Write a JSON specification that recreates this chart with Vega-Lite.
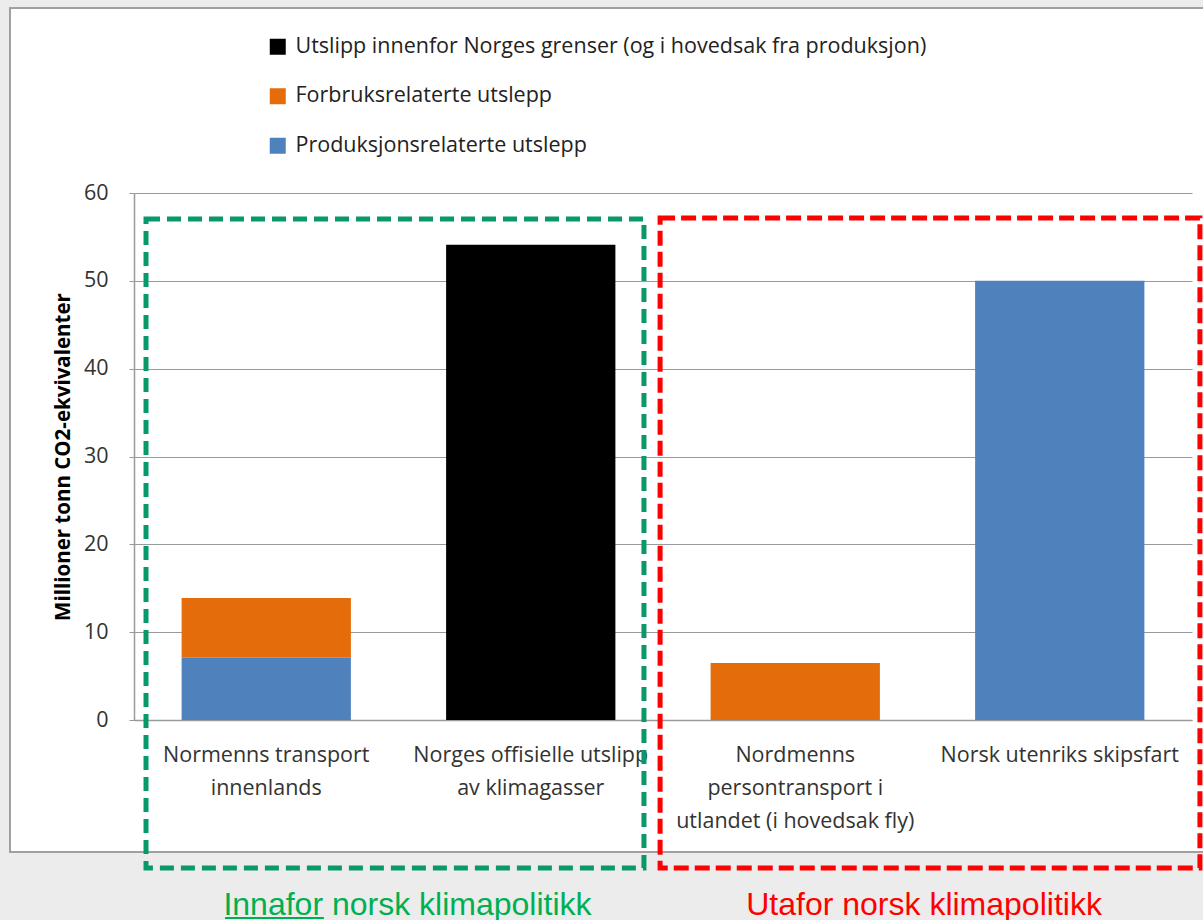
{
  "$schema": "https://vega.github.io/schema/vega-lite/v6.json",
  "width": 1058,
  "height": 527,
  "autosize": {"type": "none"},
  "padding": {"left": 134, "top": 193, "right": 11, "bottom": 200},
  "background": "white",
  "config": {
    "view": {"stroke": null},
    "font": "Open Sans",
    "legend": {
      "orient": "none",
      "legendX": 133,
      "legendY": -157,
      "padding": 0,
      "title": null,
      "symbolType": "square",
      "symbolSize": 256,
      "symbolStrokeWidth": 0,
      "labelFont": "Open Sans",
      "labelFontSize": 21.5,
      "labelColor": "#222222",
      "labelOffset": 7,
      "labelLimit": 1000,
      "rowPadding": 26.5
    }
  },
  "resolve": {"scale": {"x": "independent"}},
  "layer": [
    {
      "data": {"values": [{}]},
      "mark": {"type": "rect", "fill": "#ececec", "clip": false},
      "encoding": {
        "x": {"datum": -0.6, "type": "quantitative", "scale": {"domain": [0, 4], "nice": false, "zero": false}, "axis": null},
        "x2": {"datum": 4.2},
        "y": {"datum": -15.03, "type": "quantitative"},
        "y2": {"datum": -30}
      }
    },
    {
      "data": {"values": [{}]},
      "mark": {"type": "rect", "fill": "#ececec", "clip": false},
      "encoding": {
        "x": {"datum": -0.6, "type": "quantitative", "scale": {"domain": [0, 4], "nice": false, "zero": false}, "axis": null},
        "x2": {"datum": -0.4688},
        "y": {"datum": -30, "type": "quantitative"},
        "y2": {"datum": 85}
      }
    },
    {
      "data": {"values": [{}]},
      "mark": {"type": "rect", "fill": "#ececec", "clip": false},
      "encoding": {
        "x": {"datum": -0.6, "type": "quantitative", "scale": {"domain": [0, 4], "nice": false, "zero": false}, "axis": null},
        "x2": {"datum": 4.2},
        "y": {"datum": 81.06, "type": "quantitative"},
        "y2": {"datum": 85}
      }
    },
    {
      "data": {"values": [{}]},
      "mark": {"type": "rect", "filled": false, "stroke": "#a0a0a0", "strokeWidth": 2, "clip": false},
      "encoding": {
        "x": {"datum": -0.4688, "type": "quantitative", "scale": {"domain": [0, 4], "nice": false, "zero": false}, "axis": null},
        "x2": {"datum": 4.1},
        "y": {"datum": 81.06, "type": "quantitative"},
        "y2": {"datum": -15.03}
      }
    },
    {
      "data": {
        "values": [
          {"kategori": "Normenns transport innenlands", "serie": "Produksjonsrelaterte utslepp", "verdi": 7.1},
          {"kategori": "Normenns transport innenlands", "serie": "Forbruksrelaterte utslepp", "verdi": 6.8},
          {"kategori": "Norges offisielle utslipp av klimagasser", "serie": "Utslipp innenfor Norges grenser (og i hovedsak fra produksjon)", "verdi": 54.1},
          {"kategori": "Nordmenns persontransport i utlandet (i hovedsak fly)", "serie": "Forbruksrelaterte utslepp", "verdi": 6.5},
          {"kategori": "Norsk utenriks skipsfart", "serie": "Produksjonsrelaterte utslepp", "verdi": 50}
        ]
      },
      "mark": {"type": "bar"},
      "encoding": {
        "x": {
          "field": "kategori",
          "type": "nominal",
          "sort": null,
          "scale": {"paddingInner": 0.36, "paddingOuter": 0.18},
          "axis": {
            "title": null,
            "labelAngle": 0,
            "labelFont": "Open Sans",
            "labelFontSize": 21.5,
            "labelColor": "#333333",
            "labelPadding": 24,
            "labelLineHeight": 33,
            "labelLimit": 1000,
            "ticks": false,
            "domain": true,
            "domainColor": "#9a9a9a",
            "domainWidth": 1.5,
            "grid": false,
            "labelExpr": "datum.value == 'Normenns transport innenlands' ? ['Normenns transport', 'innenlands'] : datum.value == 'Norges offisielle utslipp av klimagasser' ? ['Norges offisielle utslipp', 'av klimagasser'] : datum.value == 'Nordmenns persontransport i utlandet (i hovedsak fly)' ? ['Nordmenns', 'persontransport i', 'utlandet (i hovedsak fly)'] : datum.value"
          }
        },
        "y": {
          "field": "verdi",
          "type": "quantitative",
          "stack": "zero",
          "scale": {"domain": [0, 60], "nice": false},
          "axis": {
            "title": "Millioner tonn CO2-ekvivalenter",
            "titleFont": "Open Sans",
            "titleFontSize": 20.5,
            "titleFontWeight": "bold",
            "titleColor": "#000000",
            "titlePadding": 10,
            "values": [0, 10, 20, 30, 40, 50, 60],
            "labelFont": "Open Sans",
            "labelFontSize": 21.5,
            "labelColor": "#333333",
            "labelPadding": 21,
            "ticks": true,
            "tickSize": 5,
            "tickColor": "#9a9a9a",
            "domain": true,
            "domainColor": "#9a9a9a",
            "domainWidth": 1.5,
            "grid": true,
            "gridColor": "#9a9a9a",
            "gridWidth": 1.2
          }
        },
        "color": {
          "field": "serie",
          "type": "nominal",
          "scale": {
            "domain": ["Utslipp innenfor Norges grenser (og i hovedsak fra produksjon)", "Forbruksrelaterte utslepp", "Produksjonsrelaterte utslepp"],
            "range": ["#000000", "#e46c0a", "#4f81bd"]
          },
          "legend": {"title": null}
        },
        "order": {"field": "serie", "sort": "descending"}
      }
    },
    {
      "data": {"values": [{}]},
      "mark": {"type": "rect", "filled": false, "stroke": "#07996b", "strokeWidth": 5, "strokeDash": [14, 7], "clip": false},
      "encoding": {
        "x": {"datum": 0.0454, "type": "quantitative", "scale": {"domain": [0, 4], "nice": false, "zero": false}, "axis": null},
        "x2": {"datum": 1.928},
        "y": {"datum": 57.04, "type": "quantitative"},
        "y2": {"datum": -16.85}
      }
    },
    {
      "data": {"values": [{}]},
      "mark": {"type": "rect", "filled": false, "stroke": "#ff0000", "strokeWidth": 5, "strokeDash": [15, 6], "clip": false},
      "encoding": {
        "x": {"datum": 1.989, "type": "quantitative", "scale": {"domain": [0, 4], "nice": false, "zero": false}, "axis": null},
        "x2": {"datum": 4.03},
        "y": {"datum": 57.15, "type": "quantitative"},
        "y2": {"datum": -16.85}
      }
    },
    {
      "data": {"values": [{"tekst": "Innafor norsk klimapolitikk"}]},
      "mark": {"type": "text", "font": "Liberation Sans", "fontSize": 32, "color": "#00b050", "align": "center", "baseline": "alphabetic", "clip": false},
      "encoding": {
        "x": {"datum": 1.034, "type": "quantitative", "scale": {"domain": [0, 4], "nice": false, "zero": false}, "axis": null},
        "y": {"datum": -22.2, "type": "quantitative"},
        "text": {"field": "tekst"}
      }
    },
    {
      "data": {"values": [{}]},
      "mark": {"type": "rule", "color": "#00b050", "strokeWidth": 2, "clip": false},
      "encoding": {
        "x": {"datum": 0.344, "type": "quantitative", "scale": {"domain": [0, 4], "nice": false, "zero": false}, "axis": null},
        "x2": {"datum": 0.718},
        "y": {"datum": -22.54, "type": "quantitative"}
      }
    },
    {
      "data": {"values": [{"tekst": "Utafor norsk klimapolitikk"}]},
      "mark": {"type": "text", "font": "Liberation Sans", "fontSize": 32, "color": "#ff0000", "align": "center", "baseline": "alphabetic", "clip": false},
      "encoding": {
        "x": {"datum": 2.987, "type": "quantitative", "scale": {"domain": [0, 4], "nice": false, "zero": false}, "axis": null},
        "y": {"datum": -22.2, "type": "quantitative"},
        "text": {"field": "tekst"}
      }
    }
  ]
}
